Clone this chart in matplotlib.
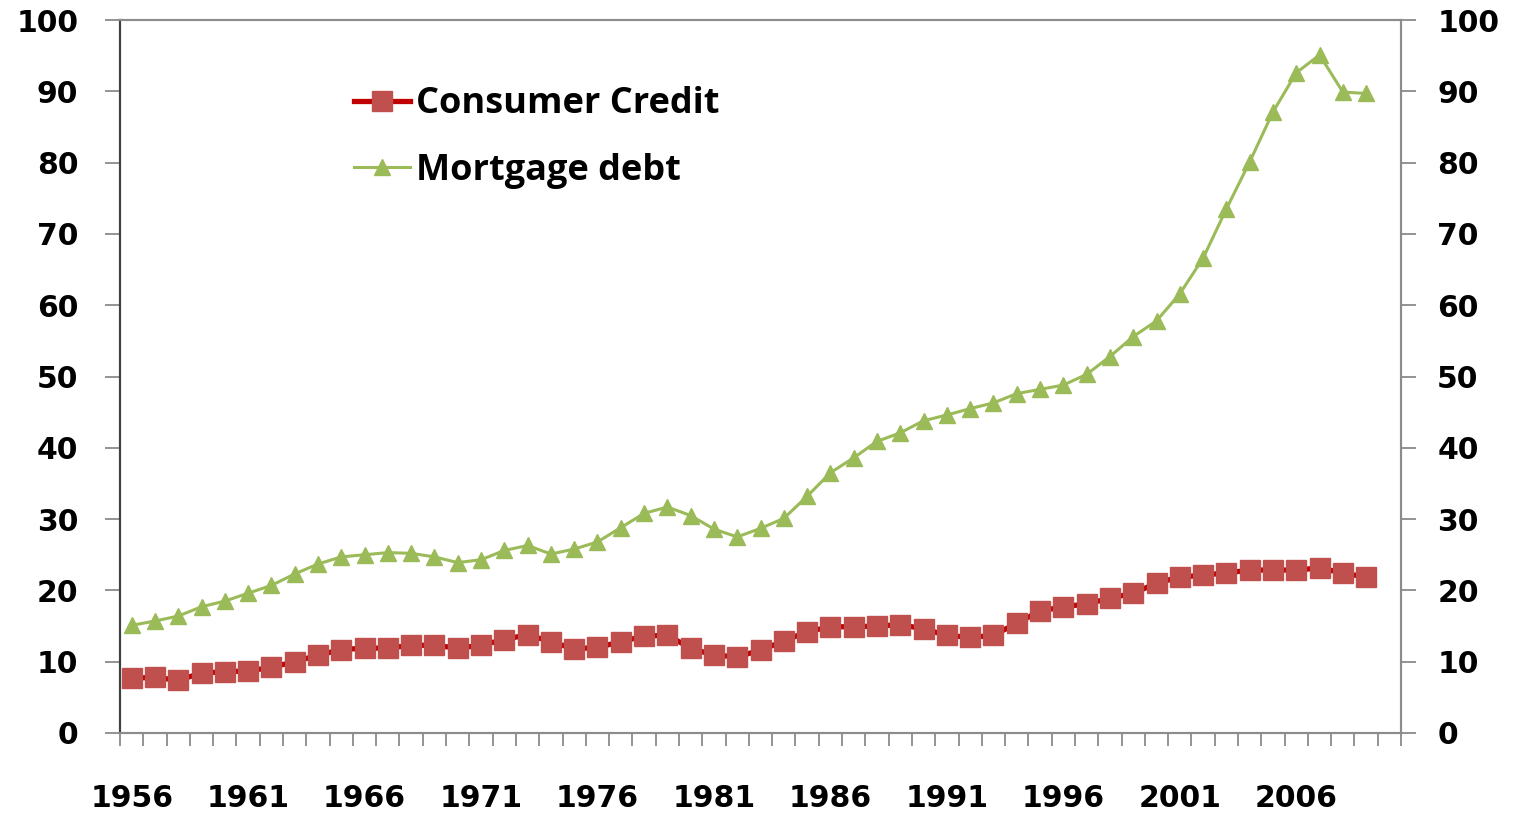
import matplotlib.pyplot as plt
import numpy as np

# years on the category axis (2010 has no data)
years = list(range(1956, 2011))

consumer_credit = [7.7, 7.8, 7.4, 8.4, 8.6, 8.7, 9.2, 10.0, 10.9, 11.7,
                   11.9, 11.9, 12.3, 12.3, 11.9, 12.3, 13.1, 13.8, 12.8, 11.8,
                   12.0, 12.8, 13.6, 13.7, 11.9, 10.9, 10.7, 11.6, 12.9, 14.2,
                   14.9, 14.9, 15.0, 15.2, 14.6, 13.7, 13.4, 13.7, 15.4, 17.1,
                   17.7, 18.1, 18.9, 19.6, 21.0, 21.9, 22.1, 22.5, 22.8, 22.9,
                   22.8, 23.2, 22.4, 21.9]

mortgage_debt = [15.1, 15.7, 16.4, 17.7, 18.5, 19.6, 20.7, 22.3, 23.7, 24.7,
                 25.0, 25.3, 25.2, 24.7, 23.9, 24.3, 25.6, 26.3, 25.1, 25.8,
                 26.8, 28.8, 30.8, 31.7, 30.5, 28.6, 27.5, 28.7, 30.1, 33.2,
                 36.5, 38.6, 40.9, 42.1, 43.8, 44.6, 45.5, 46.3, 47.6, 48.2,
                 48.8, 50.3, 52.8, 55.6, 57.8, 61.6, 66.6, 73.5, 80.1, 87.1,
                 92.6, 95.1, 89.9, 89.7]

y_ticks = [0, 10, 20, 30, 40, 50, 60, 70, 80, 90, 100]

plt.rcParams['font.family'] = ['Open Sans', 'DejaVu Sans']
tick_font = {"family": "DejaVu Sans", "size": 21.5, "weight": "bold"}

fig = plt.figure(figsize=(15.15, 8.21), dpi=100)
ax = fig.add_axes([0.0792, 0.1072, 0.8456, 0.8684])

x_cc = np.arange(len(consumer_credit))
x_md = np.arange(len(mortgage_debt))

ax.plot(x_cc, consumer_credit, color="#C00000", linewidth=3.8,
        marker="s", markersize=14, markerfacecolor="#C0504D",
        markeredgecolor="#C0504D", label="Consumer Credit", zorder=3)
ax.plot(x_md, mortgage_debt, color="#9BBB59", linewidth=2.2,
        marker="^", markersize=12, markerfacecolor="#9BBB59",
        markeredgecolor="#9BBB59", label="Mortgage debt", zorder=3)

ax.set_xlim(-0.5, len(years) - 0.5)
ax.set_ylim(0, 100)

# left y axis
ax.set_yticks(y_ticks)
ax.set_yticklabels([str(v) for v in y_ticks], fontdict=tick_font)
ax.tick_params(axis="y", direction="out", length=11, width=1.2,
               color="#808080", pad=19)

# right y axis, same scale
ax2 = ax.twinx()
ax2.set_ylim(0, 100)
ax2.set_yticks(y_ticks)
ax2.set_yticklabels([str(v) for v in y_ticks], fontdict=tick_font)
ax2.tick_params(axis="y", direction="out", length=11, width=1.2,
                color="#808080", pad=15)

# x axis: tick marks between categories, label every 5 years
ax.set_xticks(np.arange(-0.5, len(years), 1), minor=True)
ax.set_xticks(np.arange(0, len(years) - 4, 5))
ax.set_xticklabels([str(years[i]) for i in range(0, len(years) - 4, 5)],
                   fontdict=tick_font)
ax.tick_params(axis="x", which="major", length=0, pad=37)
ax.tick_params(axis="x", which="minor", direction="out", length=9, width=1.2,
               color="#808080")

for a in [ax, ax2]:
    a.spines["left"].set_color("#404040")
    a.spines["left"].set_linewidth(1.5)
    for s in ["right", "top", "bottom"]:
        a.spines[s].set_color("#8C8C8C")
        a.spines[s].set_linewidth(1.5)

leg = ax.legend(loc="upper left", bbox_to_anchor=(0.183, 0.907), frameon=False,
                fontsize=26, handlelength=1.55, handletextpad=0.15,
                labelspacing=0.85, borderaxespad=0, borderpad=0)
for t in leg.get_texts():
    t.set_fontweight("bold")

plt.savefig("out.png", dpi=100)
